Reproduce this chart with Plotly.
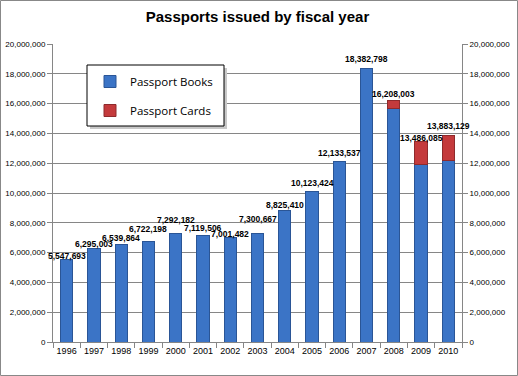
import plotly.graph_objects as go

years = ["1996","1997","1998","1999","2000","2001","2002","2003","2004","2005","2006","2007","2008","2009","2010"]
totals = [5547693,6295003,6539864,6722198,7292182,7119506,7001482,7300667,8825410,10123424,12133537,18382798,16208003,13486085,13883129]
cards = [0,0,0,0,0,0,0,0,0,0,0,0,540000,1540000,1680000]
books = [t - c for t, c in zip(totals, cards)]
label_text = ["{:,}".format(t) for t in totals]
label_shift = [3,4,7,13,13,8,4,14,6,8,8,9,7,3,9]
ytick_vals = list(range(0, 20000001, 2000000))
ytick_text = ["{:,}".format(v) for v in ytick_vals]

W, H = 518, 376
L, R, T, B = 53, 56, 44, 34
pw, ph = W - L - R, H - T - B

cards_plot = [c if c > 0 else None for c in cards]

fig = go.Figure()
fig.add_trace(go.Bar(x=years, y=books, name="Passport Books", marker=dict(color="#3b74c6", line=dict(color="#2a5596", width=1)), legendgroup="a"))
fig.add_trace(go.Bar(x=years, y=cards_plot, name="Passport Cards", marker=dict(color="#c43a3c", line=dict(color="#8e2a2c", width=1)), legendgroup="b"))
fig.add_trace(go.Scatter(x=years, y=totals, yaxis="y2", mode="markers", marker=dict(opacity=0), showlegend=False, hoverinfo="skip"))

for i, (t, txt, s) in enumerate(zip(totals, label_text, label_shift)):
    fig.add_annotation(x=i, y=t, xref="x", yref="y", text="<b>" + txt + "</b>", showarrow=False, yanchor="middle", yshift=s, font=dict(size=8.5, color="#000000", family="Liberation Sans"))

def px(xp):
    return (xp - L) / pw

def py(yp):
    return (H - B - yp) / ph

shapes = [
    dict(type="rect", xref="paper", yref="paper", x0=px(0.5), x1=px(W - 0.5), y0=py(H - 0.5), y1=py(0.5), line=dict(color="#888888", width=1), layer="below"),
    dict(type="rect", xref="paper", yref="paper", x0=px(90), x1=px(227), y0=py(129), y1=py(68), fillcolor="#c8c8c8", line=dict(width=0), layer="above"),
    dict(type="rect", xref="paper", yref="paper", x0=px(87), x1=px(224), y0=py(126), y1=py(65), fillcolor="#ffffff", line=dict(color="#000000", width=1), layer="above"),
]

fig.update_layout(
    width=W, height=H,
    margin=dict(l=L, r=R, t=T, b=B, autoexpand=False),
    paper_bgcolor="#ffffff", plot_bgcolor="#ffffff",
    barmode="stack", bargap=0.55,
    title=dict(text="<b>Passports issued by fiscal year</b>", x=0.5, xref="paper", xanchor="center", y=1 - 17 / H, yanchor="middle", font=dict(size=15, color="#000000", family="Liberation Sans")),
    font=dict(family="Liberation Sans", size=9, color="#000000"),
    xaxis=dict(type="category", range=[-0.5, len(years) - 0.5], automargin=False, showline=True, linecolor="#868686", ticks="outside", tickson="boundaries", ticklen=5, tickcolor="#868686", showgrid=False, tickfont=dict(size=9), tickangle=0),
    yaxis=dict(range=[0, 20000000], automargin=False, tickvals=ytick_vals, ticktext=ytick_text, showline=True, linecolor="#868686", ticks="outside", ticklen=5, tickcolor="#868686", gridcolor="#868686", gridwidth=1, tickfont=dict(size=8), zeroline=False),
    yaxis2=dict(range=[0, 20000000], automargin=False, tickvals=ytick_vals, ticktext=ytick_text, overlaying="y", side="right", showline=True, linecolor="#868686", ticks="outside", ticklen=5, tickcolor="#868686", showgrid=False, tickfont=dict(size=8), zeroline=False),
    legend=dict(x=px(90), y=py(67), xanchor="left", yanchor="top", bgcolor="rgba(0,0,0,0)", borderwidth=0, font=dict(size=11.5, family="Open Sans"), tracegroupgap=10, traceorder="grouped", itemwidth=30),
    shapes=shapes,
    showlegend=True,
)

fig.write_html("out.html", config={"displayModeBar": False}, post_script="document.body.style.margin='0';document.body.style.padding='0';")
